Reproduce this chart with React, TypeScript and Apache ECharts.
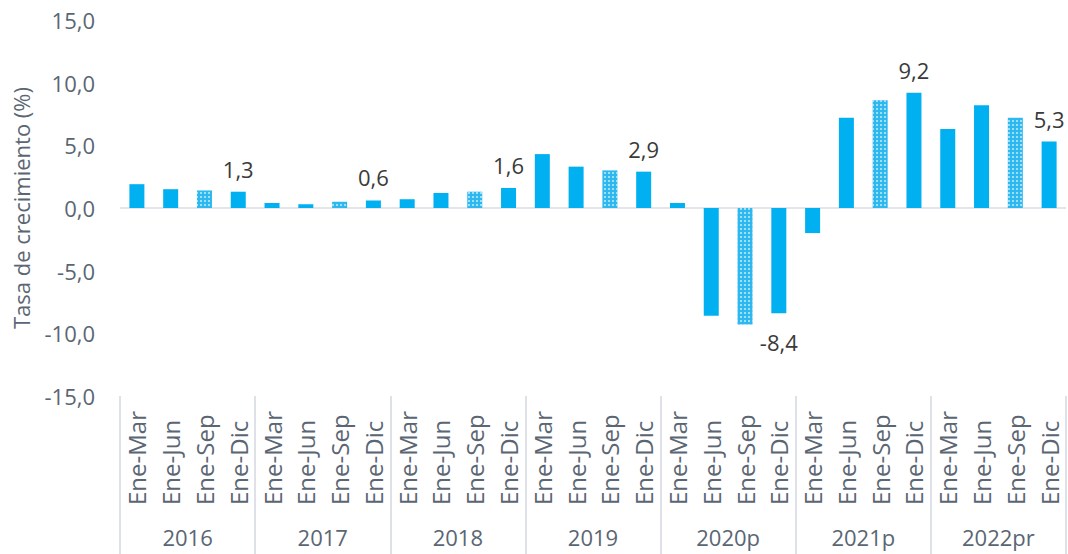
import React, { useEffect, useRef } from "react";
import * as echarts from "echarts";

const years = ["2016", "2017", "2018", "2019", "2020p", "2021p", "2022pr"];
const quarters = ["Ene-Mar", "Ene-Jun", "Ene-Sep", "Ene-Dic"];
const values = [
  1.9, 1.5, 1.4, 1.3,
  0.4, 0.3, 0.5, 0.6,
  0.7, 1.2, 1.3, 1.6,
  4.3, 3.3, 3.0, 2.9,
  0.4, -8.6, -9.3, -8.4,
  -2.0, 7.2, 8.6, 9.2,
  6.3, 8.2, 7.2, 5.3,
];
const labeledQuarter = "Ene-Dic";
const patternQuarter = "Ene-Sep";
const yTicks = { min: -15, max: 15, interval: 5 };

const fmt = (v: number) => v.toFixed(1).replace(".", ",");

export default function App() {
  const ref = useRef<HTMLDivElement>(null);
  useEffect(() => {
    document.body.style.margin = "0";
    if (!ref.current) return;
    const chart = echarts.init(ref.current, null, { renderer: "svg" });
    const cats: string[] = [];
    years.forEach((y) => quarters.forEach((q) => cats.push(y + "|" + q)));
    const data = values.map((v, i) => {
      const q = quarters[i % quarters.length];
      const item: any = { value: v };
      if (q === patternQuarter) {
        item.itemStyle = {
          color: "#2DB8F0",
          decal: {
            symbol: "rect",
            symbolSize: 1,
            color: "rgba(255,255,255,0.55)",
            dashArrayX: [2, 2],
            dashArrayY: [2, 2],
            rotation: 0,
          },
        };
      }
      if (q === labeledQuarter) {
        item.label = {
          show: true,
          position: v >= 0 ? "top" : "bottom",
          distance: v >= 0 ? 12 : 18,
          formatter: (p: any) => fmt(p.value),
          fontSize: 22,
          color: "#3A3A3A",
          fontFamily: "Open Sans",
        };
      }
      return item;
    });
    const zeroIdx = (0 - yTicks.min) / yTicks.interval;
    const nLines = (yTicks.max - yTicks.min) / yTicks.interval + 1;
    const splitColors = Array.from({ length: nLines }, (_, i) =>
      i === zeroIdx ? "#D9DDE3" : "rgba(0,0,0,0)"
    );
    chart.setOption({
      animation: false,
      textStyle: { fontFamily: "Open Sans" },
      grid: { left: 120, right: 2, top: 20, bottom: 158 },
      xAxis: [
        {
          type: "category",
          data: cats,
          position: "bottom",
          axisLine: { show: false },
          axisTick: { show: false },
          axisLabel: {
            interval: 0,
            rotate: 90,
            align: "left",
            margin: 109,
            fontSize: 24,
            color: "#5A6673",
            fontFamily: "Open Sans",
            formatter: (s: string) => s.split("|")[1],
          },
        },
        {
          type: "category",
          data: years,
          position: "bottom",
          axisLine: { show: false },
          axisTick: {
            show: true,
            length: 160,
            lineStyle: { color: "#D3D9E1", width: 1.5 },
          },
          axisLabel: {
            interval: 0,
            margin: 130,
            fontSize: 22,
            color: "#5A6673",
            fontFamily: "Open Sans",
          },
        },
      ],
      yAxis: {
        type: "value",
        min: yTicks.min,
        max: yTicks.max,
        interval: yTicks.interval,
        name: "Tasa de crecimiento (%)",
        nameLocation: "middle",
        nameGap: 88,
        nameTextStyle: { fontSize: 22, color: "#5A6673", fontFamily: "Open Sans" },
        axisLine: { show: false },
        axisTick: { show: false },
        axisLabel: {
          margin: 25,
          fontSize: 22,
          color: "#5A6673",
          fontFamily: "Open Sans",
          formatter: (v: number) => fmt(v),
        },
        splitLine: { show: true, lineStyle: { color: splitColors, width: 1.5 } },
      },
      series: [
        {
          type: "bar",
          xAxisIndex: 0,
          data,
          barWidth: 15,
          itemStyle: { color: "#00B0F0" },
        },
      ],
    });
    return () => chart.dispose();
  }, []);
  return <div ref={ref} style={{ width: 1068, height: 554 }} />;
}
